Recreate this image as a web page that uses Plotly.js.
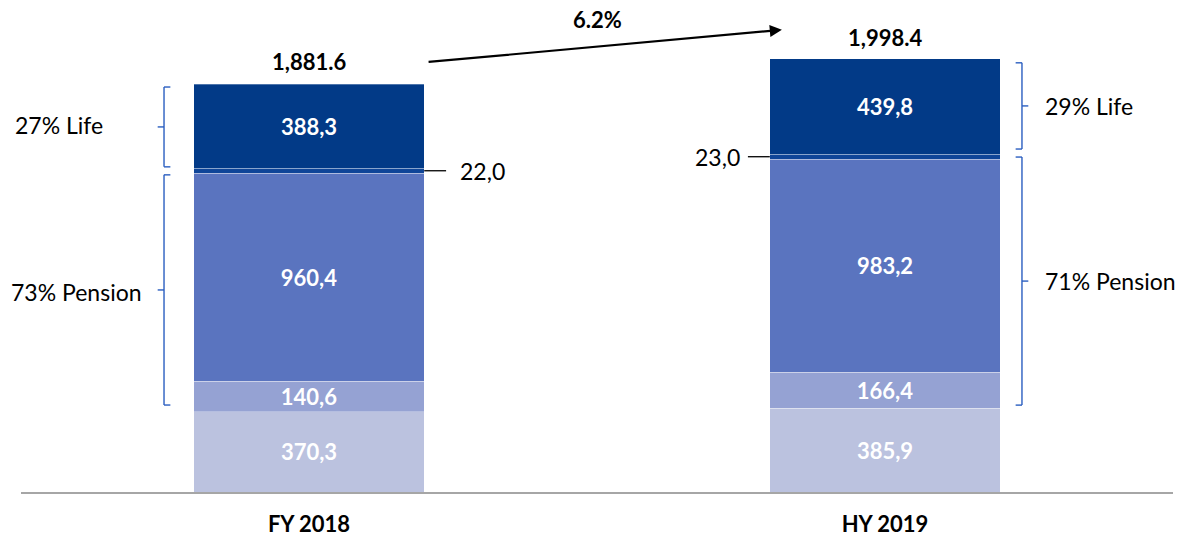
<!DOCTYPE html>
<html>
<head>
<meta charset="utf-8">
<script src="https://cdn.plot.ly/plotly-3.0.1.min.js"></script>
<style>
  html, body { margin: 0; padding: 0; background: #ffffff; }
  #chart { width: 1188px; height: 540px; }
</style>
</head>
<body>
<div id="chart"></div>
<script>
// ---- data ----
const categories = ['FY 2018', 'HY 2019'];
const segBottom = [370.3, 385.9];
const segSecond = [140.6, 166.4];
const segPension = [960.4, 983.2];
const segSmall = [22.0, 23.0];
const segLife = [388.3, 439.8];
const totals = [1881.6, 1998.4];
const growthLabel = '6.2%';
const lifeLabels = ['27% Life', '29% Life'];
const pensionLabels = ['73% Pension', '71% Pension'];

// ---- helpers ----
const FONT = 'Lato, "Open Sans", "Liberation Sans", sans-serif';
const fmtComma = v => v.toFixed(1).replace('.', ',');
const fmtTotal = v => v.toLocaleString('en-US', {minimumFractionDigits: 1, maximumFractionDigits: 1});

const xIdx = categories.map((c, i) => i);
function barTrace(vals, color, showText) {
  return {
    type: 'bar',
    x: xIdx,
    y: vals,
    width: 0.4,
    marker: {color: color, line: {color: 'rgba(255,255,255,0.3)', width: 1}},
    text: showText ? vals.map(fmtComma) : vals.map(() => ''),
    textposition: showText ? 'inside' : 'none',
    insidetextanchor: 'middle',
    constraintext: 'none',
    textfont: {family: FONT, size: 22, color: '#ffffff', weight: 'bold'},
    hoverinfo: 'skip',
    showlegend: false
  };
}

const traces = [
  barTrace(segBottom, '#BBC2DF', true),
  barTrace(segSecond, '#95A2D3', true),
  barTrace(segPension, '#5A74BF', true),
  barTrace(segSmall, '#0F4598', false),
  barTrace(segLife, '#023A87', true)
];

// cumulative levels
const cum1 = xIdx.map(i => segBottom[i]);
const cum2 = xIdx.map(i => cum1[i] + segSecond[i]);
const cum3 = xIdx.map(i => cum2[i] + segPension[i]);
const cum4 = xIdx.map(i => cum3[i] + segSmall[i]);
const cum5 = xIdx.map(i => cum4[i] + segLife[i]);

const shapes = [];
const annotations = [];
const BR = '#2A5EC0';
function bracket(xv, dir, y0, y1) {
  const endLen = 0.011 * dir;
  const nub = -0.011 * dir;
  const ln = {color: BR, width: 1.4};
  shapes.push({type: 'line', xref: 'x', yref: 'y', x0: xv, x1: xv, y0: y0, y1: y1, line: ln});
  shapes.push({type: 'line', xref: 'x', yref: 'y', x0: xv, x1: xv + endLen, y0: y0, y1: y0, line: ln});
  shapes.push({type: 'line', xref: 'x', yref: 'y', x0: xv, x1: xv + endLen, y0: y1, y1: y1, line: ln});
  const ym = (y0 + y1) / 2;
  shapes.push({type: 'line', xref: 'x', yref: 'y', x0: xv, x1: xv + nub, y0: ym, y1: ym, line: ln});
  return ym;
}

// left brackets (FY 2018)
const lLifeMid = bracket(0 - 0.2517, 1, cum4[0] + 7, cum5[0] - 13);
const lPenMid = bracket(0 - 0.2517, 1, cum1[0] + 31, cum3[0] - 8);
// right brackets (HY 2019)
const rLifeMid = bracket(1 + 0.2378, -1, cum4[1] + 24, cum5[1] - 18);
const rPenMid = bracket(1 + 0.2378, -1, cum1[1] + 15, cum3[1] + 10);

const sideFont = {family: FONT, size: 23, color: '#000000'};
const pxToPaper = px => (px - 21) / 1152;
annotations.push({xref: 'paper', yref: 'y', x: pxToPaper(13), y: lLifeMid, yshift: 2, xanchor: 'left', yanchor: 'middle', text: lifeLabels[0], showarrow: false, font: sideFont});
annotations.push({xref: 'paper', yref: 'y', x: pxToPaper(9), y: lPenMid, yshift: -2, xanchor: 'left', yanchor: 'middle', text: pensionLabels[0], showarrow: false, font: sideFont});
annotations.push({xref: 'paper', yref: 'y', x: pxToPaper(1043), y: rLifeMid, xanchor: 'left', yanchor: 'middle', text: lifeLabels[1], showarrow: false, font: sideFont});
annotations.push({xref: 'paper', yref: 'y', x: pxToPaper(1043), y: rPenMid, xanchor: 'left', yanchor: 'middle', text: pensionLabels[1], showarrow: false, font: sideFont});

// small segment leader lines + labels
const smallMid = xIdx.map(i => cum3[i] + segSmall[i] / 2);
shapes.push({type: 'line', xref: 'x', yref: 'y', x0: 0.2, x1: 0.238, y0: smallMid[0], y1: smallMid[0], line: {color: '#000', width: 1.3}});
shapes.push({type: 'line', xref: 'x', yref: 'y', x0: 1 - 0.238, x1: 1 - 0.2, y0: smallMid[1], y1: smallMid[1], line: {color: '#000', width: 1.3}});
annotations.push({xref: 'x', yref: 'y', x: 0.258, y: smallMid[0], xanchor: 'left', yanchor: 'middle', text: fmtComma(segSmall[0]), showarrow: false, font: sideFont});
annotations.push({xref: 'x', yref: 'y', x: 1 - 0.248, y: smallMid[1], xanchor: 'right', yanchor: 'middle', text: fmtComma(segSmall[1]), showarrow: false, font: sideFont});

// totals
xIdx.forEach(i => {
  annotations.push({xref: 'x', yref: 'y', x: i, y: totals[i], xanchor: 'center', yanchor: 'middle', yshift: i === 0 ? 23 : 21,
    text: fmtTotal(totals[i]), showarrow: false, font: {family: FONT, size: 22, color: '#000', weight: 'bold'}});
});

// growth arrow
annotations.push({xref: 'x', yref: 'y', axref: 'x', ayref: 'y', x: 0.821, y: totals[1] + 134, ax: 0.205, ay: totals[0] + 102,
  text: '', showarrow: true, arrowhead: 2, arrowsize: 1.1, arrowwidth: 2.2, arrowcolor: '#000', standoff: 0, startstandoff: 0});
annotations.push({xref: 'x', yref: 'y', x: 0.5, y: totals[1] + 180, xanchor: 'center', yanchor: 'middle',
  text: growthLabel, showarrow: false, font: {family: FONT, size: 22, color: '#000', weight: 'bold'}});

const layout = {
  width: 1188, height: 540,
  margin: {l: 21, r: 15, t: 10, b: 48},
  paper_bgcolor: '#ffffff', plot_bgcolor: '#ffffff',
  barmode: 'stack',
  bargap: 0,
  xaxis: {
    range: [-0.5, 1.5],
    tickmode: 'array', tickvals: xIdx, ticktext: categories,
    tickfont: {family: FONT, size: 22, color: '#000', weight: 'bold'},
    ticks: '', showgrid: false, zeroline: false,
    showline: true, linecolor: '#A6A6A6', linewidth: 2,
    ticklabelstandoff: 12,
    fixedrange: true
  },
  yaxis: {
    range: [0, 2224],
    showticklabels: false, showgrid: false, zeroline: false, showline: false, ticks: '',
    fixedrange: true
  },
  shapes: shapes,
  annotations: annotations,
  showlegend: false
};

Plotly.newPlot('chart', traces, layout, {displayModeBar: false, staticPlot: true});
</script>
</body>
</html>
